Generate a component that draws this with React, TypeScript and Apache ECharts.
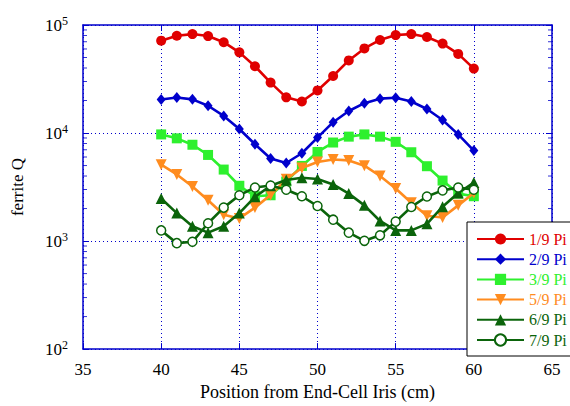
import React, { useEffect, useRef } from "react";
import * as echarts from "echarts";

const positions = [40, 41, 42, 43, 44, 45, 46, 47, 48, 49, 50, 51, 52, 53, 54, 55, 56, 57, 58, 59, 60];
const q1_9 = [71600, 79500, 82400, 79000, 69300, 55800, 41500, 29300, 21400, 19600, 24800, 33700, 47000, 60700, 72700, 80700, 82400, 77400, 67300, 54000, 39500];
const q2_9 = [20400, 21300, 20500, 17900, 14400, 10900, 7880, 5820, 5280, 6500, 9070, 12600, 16000, 18900, 20800, 21200, 19600, 16700, 13200, 9710, 6880];
const q3_9 = [9710, 8930, 7790, 6270, 4590, 3250, 2600, 2655, 3555, 4960, 6680, 8170, 9260, 9710, 9260, 8290, 6640, 4930, 3630, 2750, 2600];
const q5_9 = [5090, 4140, 3200, 2390, 1750, 1620, 2040, 2670, 3730, 4750, 5390, 5680, 5580, 4990, 4000, 3070, 2260, 1715, 1655, 2140, 2785];
const q6_9 = [2480, 1815, 1372, 1197, 1372, 1815, 2565, 3250, 3680, 3860, 3760, 3340, 2750, 2140, 1535, 1255, 1255, 1443, 2080, 2785, 3480];
const q7_9 = [1255, 957, 984, 1462, 2040, 2655, 3135, 3270, 2990, 2600, 2110, 1578, 1197, 1005, 1130, 1514, 2070, 2585, 2945, 3135, 2990];

const seriesNames = ["1/9 Pi", "2/9 Pi", "3/9 Pi", "5/9 Pi", "6/9 Pi", "7/9 Pi"];
const minorTickValues = [
  200, 300, 400, 500, 600, 700, 800, 900,
  2000, 3000, 4000, 5000, 6000, 7000, 8000, 9000,
  20000, 30000, 40000, 50000, 60000, 70000, 80000, 90000,
];

const AXIS = "#0000cc";
const FONT = "Liberation Serif";

export default function App() {
  const ref = useRef<HTMLDivElement>(null);
  useEffect(() => {
    if (!ref.current) return;
    const chart = echarts.init(ref.current, null, { renderer: "svg" });
    const colors = ["#e00000", "#0000cc", "#2ef02e", "#ff8c1f", "#0b640b", "#0b640b"];
    const values = [q1_9, q2_9, q3_9, q5_9, q6_9, q7_9];
    const symbols = ["circle", "diamond", "rect", "triangle", "triangle", "circle"];
    const sizes = [10, [9, 11], 10, 11, 11, 9];
    const rotates = [0, 0, 0, 180, 0, 0];
    const lineSeries = values.map((vals, k) => ({
      name: seriesNames[k],
      type: "line",
      data: positions.map((p, i) => [p, vals[i]]),
      symbol: symbols[k],
      symbolSize: sizes[k],
      symbolRotate: rotates[k],
      showAllSymbol: true,
      lineStyle: { color: colors[k], width: 2.6 },
      itemStyle:
        k === 5
          ? { color: "#ffffff", borderColor: colors[k], borderWidth: 1.5 }
          : { color: colors[k], borderWidth: 0 },
      emphasis: { disabled: true },
      z: 3 + k,
    }));
    const tickSeries = [35, 65].map((xv, k) => ({
      type: "scatter",
      data: minorTickValues.map((v) => [xv, v]),
      symbol: "rect",
      symbolSize: [4, 1],
      symbolOffset: [k === 0 ? 2 : -2, 0],
      itemStyle: { color: AXIS },
      silent: true,
      clip: false,
      z: 10,
    }));
    chart.setOption({
      animation: false,
      textStyle: { fontFamily: FONT },
      grid: { left: 83, right: 18, top: 25, bottom: 50 },
      graphic: [
        {
          type: "rect",
          z: 29,
          shape: { x: 470, y: 225, width: 112, height: 122 },
          style: { fill: "#000000" },
          silent: true,
        },
      ],
      legend: {
        z: 30,
        orient: "vertical",
        left: 467,
        top: 222,
        padding: [9, 12, 8, 9],
        itemWidth: 47,
        itemHeight: 14,
        itemGap: 4.2,
        backgroundColor: "#ffffff",
        borderColor: "#000000",
        borderWidth: 1,
        borderRadius: 0,
        textStyle: { fontFamily: FONT, fontSize: 16 },
        data: seriesNames.map((n, k) => ({ name: n, textStyle: { color: colors[k] } })),
        selectedMode: false,
      },
      xAxis: [
        {
          type: "value",
          min: 35,
          max: 65,
          interval: 5,
          name: "Position from End-Cell Iris (cm)",
          nameLocation: "middle",
          nameGap: 31,
          nameTextStyle: { fontFamily: FONT, fontSize: 18, color: "#000" },
          axisLine: { lineStyle: { color: AXIS, width: 1.5 } },
          axisTick: { inside: true, length: 6, lineStyle: { color: AXIS } },
          axisLabel: { fontFamily: FONT, fontSize: 17, color: "#000", margin: 12 },
          splitLine: { show: true, lineStyle: { color: AXIS, type: [1, 3], width: 1 } },
        },
        {
          type: "value",
          position: "top",
          min: 35,
          max: 65,
          interval: 5,
          axisLine: { show: true, lineStyle: { color: AXIS, width: 1.5 } },
          axisTick: { show: true, inside: true, length: 6, lineStyle: { color: AXIS } },
          axisLabel: { show: false },
          splitLine: { show: false },
        },
      ],
      yAxis: [
        {
          type: "log",
          logBase: 10,
          min: 100,
          max: 100000,
          splitNumber: 3,
          name: "ferrite Q",
          nameLocation: "middle",
          nameGap: 57,
          nameTextStyle: { fontFamily: FONT, fontSize: 17, color: "#000" },
          axisLine: { show: true, lineStyle: { color: AXIS, width: 1.5 } },
          axisTick: { show: true, inside: true, length: 6, lineStyle: { color: AXIS } },
          axisLabel: {
            margin: 15,
            formatter: (v: number) => `{b|10}{s|${Math.round(Math.log10(v))}}`,
            rich: {
              b: { fontFamily: FONT, fontSize: 17, color: "#000" },
              s: { fontFamily: FONT, fontSize: 12, color: "#000", verticalAlign: "top", padding: [0, 0, 8, 0] },
            },
          },
          splitLine: { show: true, lineStyle: { color: AXIS, type: [1, 3], width: 1 } },
        },
        {
          type: "log",
          logBase: 10,
          min: 100,
          max: 100000,
          splitNumber: 3,
          position: "right",
          axisLine: { show: true, lineStyle: { color: AXIS, width: 1.5 } },
          axisTick: { show: true, inside: true, length: 6, lineStyle: { color: AXIS } },
          axisLabel: { show: false },
          splitLine: { show: false },
        },
      ],
      series: [...tickSeries, ...lineSeries],
    });
    return () => chart.dispose();
  }, []);
  return <div ref={ref} style={{ width: 570, height: 406, position: "absolute", left: 0, top: 0 }} />;
}
